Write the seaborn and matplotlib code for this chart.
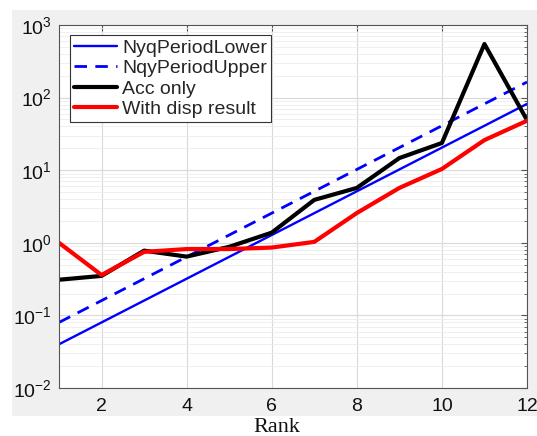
import numpy as np
import pandas as pd
import matplotlib
matplotlib.use("Agg")
import matplotlib.pyplot as plt
import seaborn as sns
from matplotlib.patches import Rectangle
from matplotlib.ticker import LogLocator, FixedLocator, NullFormatter

rank = [1, 2, 3, 4, 5, 6, 7, 8, 9, 10, 11, 12]
nyq_lower = [0.04, 0.08, 0.16, 0.32, 0.64, 1.28, 2.56, 5.12, 10.24, 20.48, 40.96, 81.92]
nqy_upper = [0.08, 0.16, 0.32, 0.64, 1.28, 2.56, 5.12, 10.24, 20.48, 40.96, 81.92, 163.84]
acc_only = [0.31, 0.35, 0.78, 0.645, 0.88, 1.38, 3.9, 5.7, 14.7, 23.7, 547, 49]
with_disp = [1.0, 0.36, 0.75, 0.82, 0.82, 0.86, 1.03, 2.57, 5.7, 10.4, 26, 48]

sns.set_style("white")
plt.rcParams["font.family"] = ["Liberation Sans", "DejaVu Sans"]
plt.rcParams["mathtext.default"] = "regular"

fig = plt.figure(figsize=(5.37, 4.36), dpi=100)
fig.patch.set_facecolor("white")
# gray figure panel (MATLAB-like)
bg = Rectangle((12 / 537, 1 - 416 / 436), 525 / 537, 406 / 436,
               transform=fig.transFigure, facecolor="#f0f0f0",
               edgecolor="none", zorder=-10)
fig.patches.append(bg)
ax = fig.add_axes([59 / 537, 1 - 388 / 436, 468 / 537, 363 / 436])
ax.set_zorder(1)
ax.set_facecolor("white")

sns.lineplot(x=rank, y=nyq_lower, ax=ax, color="#0000ff", lw=1.7, label="NyqPeriodLower")
sns.lineplot(x=rank, y=nqy_upper, ax=ax, color="#0000ff", lw=2.0, label="NqyPeriodUpper",
             linestyle=(0, (4.5, 3)))
sns.lineplot(x=rank, y=acc_only, ax=ax, color="black", lw=3.0, label="Acc only")
sns.lineplot(x=rank, y=with_disp, ax=ax, color="#ff0000", lw=3.0, label="With disp result")

ax.set_yscale("log")
ax.set_ylim(1e-2, 1e3)
ax.set_xlim(1, 12)
ax.xaxis.set_major_locator(FixedLocator([2, 4, 6, 8, 10, 12]))
ax.yaxis.set_major_locator(LogLocator(base=10, numticks=10))
ax.yaxis.set_minor_locator(LogLocator(base=10, subs=np.arange(2, 10), numticks=20))
ax.yaxis.set_minor_formatter(NullFormatter())

ax.grid(True, which="major", color="#d9d9d9", lw=0.8)
ax.grid(True, which="minor", axis="y", color="#ececec", lw=0.6)
ax.set_axisbelow(True)

for s in ax.spines.values():
    s.set_color("#555555")
    s.set_linewidth(0.8)
    s.set_visible(True)
ax.tick_params(axis="both", which="both", direction="in", top=True, right=True,
               color="#555555", labelsize=14, labelcolor="#111111")
ax.tick_params(axis="both", which="major", length=4)
ax.tick_params(axis="y", which="minor", length=2)
ax.tick_params(axis="x", pad=7)
ax.tick_params(axis="y", pad=5)

ax.set_xlabel("")
ax.set_ylabel("")
fig.text(276.5 / 537, 1 - 431.5 / 436, "Rank", ha="center", va="baseline",
         fontsize=16, family=["Liberation Serif", "DejaVu Serif"], color="#111111")

leg = ax.legend(loc="upper left", bbox_to_anchor=(0.0235, 0.972), fontsize=14,
                frameon=True, fancybox=False, edgecolor="#333333", framealpha=1,
                handlelength=2.2, handletextpad=0.27, borderpad=0.2,
                labelspacing=0.15, borderaxespad=0)
leg.get_frame().set_linewidth(0.8)

fig.savefig("out.png", dpi=100)
